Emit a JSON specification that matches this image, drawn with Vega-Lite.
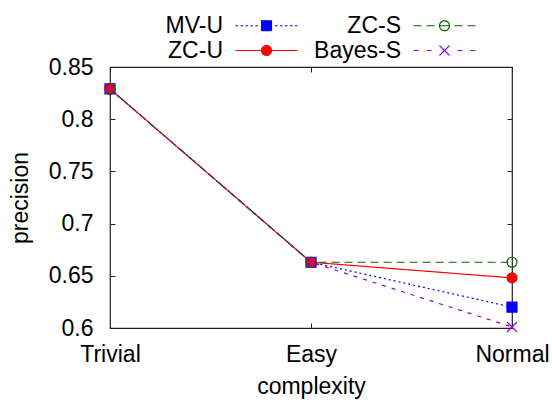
{
  "$schema": "https://vega.github.io/schema/vega-lite/v6.json",
  "width": 402,
  "height": 261,
  "autosize": {"type": "none"},
  "padding": {"left": 110, "top": 67, "right": 40, "bottom": 74},
  "config": {
    "font": "Liberation Sans",
    "view": {"stroke": "#222", "strokeWidth": 1.2},
    "axis": {
      "labelFont": "Liberation Sans", "labelFontSize": 23, "labelColor": "#000",
      "titleFont": "Liberation Sans", "titleFontSize": 23, "titleFontWeight": "normal", "titleColor": "#000",
      "domain": false, "grid": false, "tickColor": "#222", "tickSize": -5, "tickWidth": 1
    }
  },
  "data": {
    "values": [
      {"series": "MV-U", "complexity": "Trivial", "precision": 0.829},
      {"series": "MV-U", "complexity": "Easy", "precision": 0.663},
      {"series": "MV-U", "complexity": "Normal", "precision": 0.620},
      {"series": "ZC-U", "complexity": "Trivial", "precision": 0.829},
      {"series": "ZC-U", "complexity": "Easy", "precision": 0.663},
      {"series": "ZC-U", "complexity": "Normal", "precision": 0.648},
      {"series": "ZC-S", "complexity": "Trivial", "precision": 0.829},
      {"series": "ZC-S", "complexity": "Easy", "precision": 0.663},
      {"series": "ZC-S", "complexity": "Normal", "precision": 0.663},
      {"series": "Bayes-S", "complexity": "Trivial", "precision": 0.829},
      {"series": "Bayes-S", "complexity": "Easy", "precision": 0.663},
      {"series": "Bayes-S", "complexity": "Normal", "precision": 0.601}
    ]
  },
  "layer": [
    {
      "mark": {"type": "line", "strokeWidth": 1.2},
      "encoding": {
        "x": {"field": "complexity", "type": "ordinal", "sort": ["Trivial", "Easy", "Normal"],
              "scale": {"type": "point", "padding": 0},
              "axis": {"orient": "bottom", "title": "complexity", "labelAngle": 0, "labelPadding": 20, "titleBaseline": "alphabetic", "titleY": 65}},
        "y": {"field": "precision", "type": "quantitative",
              "scale": {"domain": [0.6, 0.85], "nice": false, "zero": false},
              "axis": {"orient": "left", "title": "precision", "values": [0.6, 0.65, 0.7, 0.75, 0.8, 0.85], "format": "~g", "labelPadding": 22, "titleBaseline": "alphabetic", "titleX": -83}},
        "stroke": {"field": "series", "type": "nominal",
                   "scale": {"domain": ["MV-U", "ZC-S", "ZC-U", "Bayes-S"], "range": ["#0000ff", "#006400", "#ff0000", "#9400d3"]},
                   "legend": {
                     "title": null, "orient": "none", "legendX": 125, "legendY": -53,
                     "columns": 2, "direction": "horizontal", "gridAlign": "each",
                     "symbolSize": 16, "symbolStrokeWidth": 1.2, "symbolOffset": 20,
                     "labelOffset": -55, "labelAlign": "right", "labelFont": "Liberation Sans", "labelFontSize": 23, "labelColor": "#000",
                     "columnPadding": 14, "rowPadding": 1, "padding": 0,
                     "encoding": {
                       "symbols": {
                         "shape": {"value": {"expr": "datum.value === 'MV-U' ? 'M-15.5,0h1.25M-13,0h1.25M-10.5,0h1.25M-8,0h1.25M-5.5,0h1.25M4.25,0h1.25M6.75,0h1.25M9.25,0h1.25M11.75,0h1.25M14.25,0h1.25M-2.5,-2.5h5v5h-5Z' : datum.value === 'ZC-U' ? 'M-15.5,0H15.5M2.5,0L2.31,0.957L1.768,1.768L0.957,2.31L0,2.5L-0.957,2.31L-1.768,1.768L-2.31,0.957L-2.5,0L-2.31,-0.957L-1.768,-1.768L-0.957,-2.31L0,-2.5L0.957,-2.31L1.768,-1.768L2.31,-0.957Z' : datum.value === 'ZC-S' ? 'M-15.5,0H-11.5M-9,0H-5M-2.5,0H2.5M5,0H9M11.5,0H15.5M2.5,0L2.31,0.957L1.768,1.768L0.957,2.31L0,2.5L-0.957,2.31L-1.768,1.768L-2.31,0.957L-2.5,0L-2.31,-0.957L-1.768,-1.768L-0.957,-2.31L0,-2.5L0.957,-2.31L1.768,-1.768L2.31,-0.957Z' : 'M-15.5,0H-13M-9,0H-6.5M6.5,0H9M13,0H15.5M-2.5,-2.5L2.5,2.5M-2.5,2.5L2.5,-2.5'"}},
                         "fill": {"value": {"expr": "datum.value === 'MV-U' ? '#0000ff' : datum.value === 'ZC-U' ? '#ff0000' : 'transparent'"}},
                         "strokeDash": {"value": [1, 0]},
                         "opacity": {"value": 1}
                       }
                     }
                   }},
        "strokeDash": {"condition": [
                         {"test": "datum.series === 'MV-U'", "value": [2, 3]},
                         {"test": "datum.series === 'ZC-S'", "value": [8, 5]},
                         {"test": "datum.series === 'Bayes-S'", "value": [4, 6]}
                       ], "value": [1, 0]},
        "order": {"value": null}
      }
    },
    {
      "mark": {"type": "point", "opacity": 1, "strokeWidth": 1.2, "size": 100},
      "encoding": {
        "x": {"field": "complexity", "type": "ordinal", "sort": ["Trivial", "Easy", "Normal"],
              "scale": {"type": "point", "padding": 0},
              "axis": {"orient": "top", "labels": false, "title": null}},
        "y": {"field": "precision", "type": "quantitative",
              "scale": {"domain": [0.6, 0.85], "nice": false, "zero": false},
              "axis": {"orient": "right", "labels": false, "title": null, "values": [0.6, 0.65, 0.7, 0.75, 0.8, 0.85]}},
        "stroke": {"field": "series", "type": "nominal"},
        "fill": {"condition": [
                   {"test": "datum.series === 'MV-U'", "value": "#0000ff"},
                   {"test": "datum.series === 'ZC-U'", "value": "#ff0000"}
                 ], "value": "transparent"},
        "shape": {"condition": [
                    {"test": "datum.series === 'MV-U'", "value": "square"},
                    {"test": "datum.series === 'Bayes-S'", "value": "M-1,-1L1,1M-1,1L1,-1"}
                  ], "value": "circle"}
      }
    }
  ],
  "resolve": {"axis": {"x": "independent", "y": "independent"}}
}
